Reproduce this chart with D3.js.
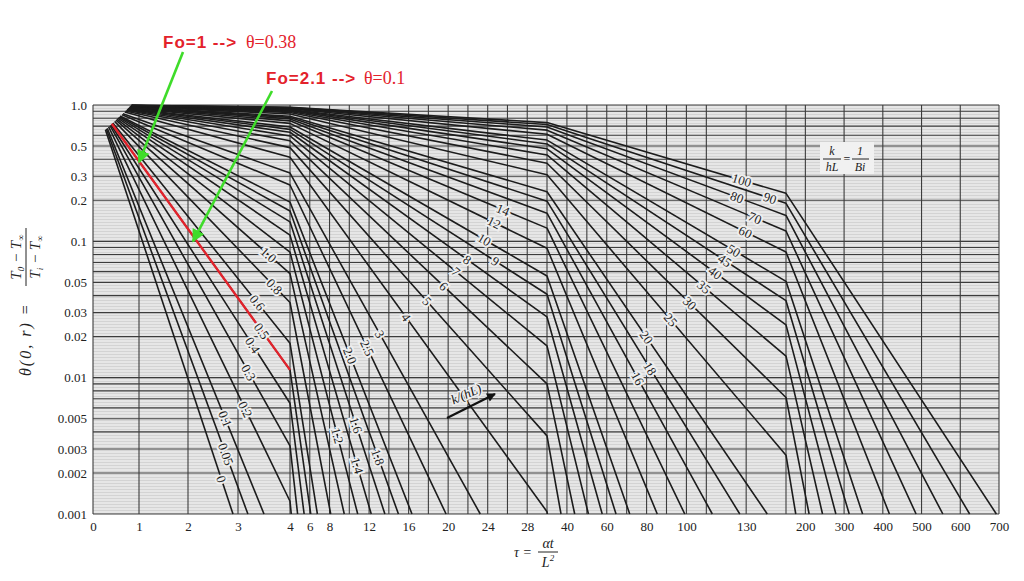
<!DOCTYPE html>
<html>
<head>
<meta charset="utf-8">
<script src="https://cdn.jsdelivr.net/npm/d3@7"></script>
<style>
body { margin: 0; background: #fff; }
svg text { font-family: "Liberation Serif", "DejaVu Serif", serif; }
</style>
</head>
<body>
<div id="chart"></div>
<script>
// k/(hL) value of each curve
const kOverHL = ["0", "0.05", "0.1", "0.2", "0.3", "0.4", "0.5", "0.6", "0.8", "1.0",
    "1.2", "1.4", "1.6", "1.8", "2.0", "2.5", "3", "4", "5", "6", "7", "8", "9", "10",
    "12", "14", "16", "18", "20", "25", "30", "35", "40", "45", "50", "60", "70", "80", "90", "100"];

// where each curve starts (upper left)
const startTau = [0.27, 0.29, 0.31, 0.34, 0.37, 0.39, 0.41, 0.43, 0.47, 0.50,
    0.52, 0.54, 0.56, 0.58, 0.59, 0.63, 0.65, 0.69, 0.71, 0.73, 0.74, 0.75, 0.76, 0.77,
    0.78, 0.79, 0.80, 0.80, 0.81, 0.82, 0.82, 0.83, 0.83, 0.83, 0.83, 0.84, 0.84, 0.84, 0.84, 0.84];
const startTheta = [0.657, 0.666, 0.675, 0.691, 0.705, 0.717, 0.729, 0.739, 0.758, 0.774,
    0.788, 0.801, 0.812, 0.821, 0.830, 0.849, 0.864, 0.887, 0.903, 0.915, 0.924, 0.932, 0.938, 0.943,
    0.951, 0.957, 0.962, 0.966, 0.969, 0.975, 0.979, 0.982, 0.984, 0.985, 0.987, 0.989, 0.991, 0.992, 0.993, 0.993];

// theta where the curve crosses the scale breaks (tau = 4, 30, 150); null = already ended
const thetaAt4 = [null, null, null, 0.00124, 0.00316, 0.00649, 0.0114, 0.0179, 0.0356, 0.0580,
    0.0834, 0.111, 0.139, 0.167, 0.194, 0.259, 0.317, 0.414, 0.487, 0.546, 0.593, 0.631, 0.663, 0.690,
    0.733, 0.765, 0.791, 0.811, 0.828, 0.860, 0.881, 0.897, 0.909, 0.919, 0.927, 0.938, 0.947, 0.953, 0.958, 0.963];
const thetaAt30 = [null, null, null, null, null, null, null, null, null, null,
    null, null, null, null, null, null, null, 0.00104, 0.00374, 0.0090, 0.0171, 0.0279, 0.0409, 0.0557,
    0.0890, 0.125, 0.161, 0.197, 0.231, 0.308, 0.374, 0.430, 0.477, 0.518, 0.553, 0.610, 0.654, 0.690, 0.719, 0.743];
const thetaAt150 = [null, null, null, null, null, null, null, null, null, null,
    null, null, null, null, null, null, null, null, null, null, null, null, null, null,
    null, null, null, null, null, 0.00270, 0.00716, 0.0144, 0.0244, 0.0367, 0.0509, 0.0835, 0.119, 0.155, 0.190, 0.225];

// tau where each curve reaches theta = 0.001
const endTau = [2.90, 3.19, 3.50, 4.13, 4.77, 5.43, 6.10, 6.77, 8.12, 9.49,
    10.85, 12.22, 13.60, 14.97, 16.34, 19.79, 23.25, 30.18, 37.04, 43.91, 50.81, 57.73, 64.66, 71.54,
    85.36, 99.17, 113.0, 126.8, 140.6, 175.2, 209.7, 244.3, 278.8, 313.3, 347.8, 417.1, 485.9, 555.0, 624.2, 693.2];

// approximate spot of each curve label
const labelTau = [2.60, 2.70, 2.68, 3.04, 3.19, 3.23, 3.40, 3.27, 3.67, 3.55,
    8.25, 10.27, 10.07, 12.09, 9.77, 11.39, 12.90, 15.63, 17.66, 19.38, 20.49, 21.70, 24.74, 23.52,
    24.43, 25.45, 74.2, 80.7, 80.2, 90.8, 101.8, 108.3, 114.4, 118.4, 123.4, 129.4, 134.4, 125.4, 142.0, 127.9];
const labelTheta = [0.00177, 0.0027, 0.00489, 0.0056, 0.0108, 0.0168, 0.0212, 0.033, 0.0454, 0.077,
    0.00367, 0.00221, 0.00434, 0.00249, 0.0142, 0.0160, 0.0205, 0.0274, 0.0353, 0.0454, 0.0566, 0.0693, 0.0705, 0.0988,
    0.127, 0.164, 0.0096, 0.0114, 0.0199, 0.0256, 0.0353, 0.0454, 0.0585, 0.0693, 0.0835, 0.115, 0.148, 0.211, 0.208, 0.286];

const xTicks = [0, 1, 2, 3, 4, 6, 8, 12, 16, 20, 24, 28, 40, 60, 80, 100, 130, 200, 300, 400, 500, 600, 700];
const yTicks = [1, 0.5, 0.3, 0.2, 0.1, 0.05, 0.03, 0.02, 0.01, 0.005, 0.003, 0.002, 0.001];
const xGrid = [0, 1, 2, 3, 4, 6, 8, 10, 12, 14, 16, 18, 20, 22, 24, 26, 28, 30,
    40, 50, 60, 70, 80, 90, 100, 110, 130, 150, 200, 300, 400, 500, 600, 700];

const w = 1024;
const h = 581;

// the tau axis changes pace at 4, 30 and 150
const x = d3.scaleLinear()
    .domain([0, 1, 2, 3, 4, 30, 150, 700])
    .range([93, 139, 188, 238, 290, 547, 786, 999]);
const y = d3.scaleLog().domain([0.001, 1]).range([514, 105]);

const svg = d3.select("#chart")
    .append("svg")
    .attr("width", w)
    .attr("height", h)
    .style("display", "block");

const defs = svg.append("defs");
const paper = defs.append("pattern")
    .attr("id", "paper")
    .attr("patternUnits", "userSpaceOnUse")
    .attr("width", 6)
    .attr("height", 3);
paper.append("rect").attr("width", 6).attr("height", 3).attr("fill", "#e6e6e6");
paper.append("rect").attr("width", 6).attr("height", 1).attr("fill", "#d3d3d3");

defs.append("marker")
    .attr("id", "greenHead")
    .attr("viewBox", "0 0 10 10")
    .attr("refX", 9).attr("refY", 5)
    .attr("markerWidth", 5).attr("markerHeight", 5)
    .attr("orient", "auto")
    .append("path").attr("d", "M0,0 L10,5 L0,10 Z").attr("fill", "#3fdc2a");

defs.append("marker")
    .attr("id", "blackHead")
    .attr("viewBox", "0 0 10 10")
    .attr("refX", 9).attr("refY", 5)
    .attr("markerWidth", 5).attr("markerHeight", 4)
    .attr("orient", "auto")
    .append("path").attr("d", "M0,0 L10,5 L0,10 Z").attr("fill", "#111");

svg.append("rect")
    .attr("x", x(0))
    .attr("y", y(1))
    .attr("width", x(700) - x(0))
    .attr("height", y(0.001) - y(1))
    .attr("fill", "url(#paper)");

// log grid: every 1..9 in each decade
let yGrid = [];
[0.001, 0.01, 0.1].forEach((dec) => {
    for (let k = 1; k < 10; k++) yGrid.push(dec * k);
});
yGrid.push(1);

svg.append("g")
    .selectAll("line")
    .data(yGrid)
    .join("line")
    .attr("x1", x(0))
    .attr("x2", x(700))
    .attr("y1", (d) => y(d))
    .attr("y2", (d) => y(d))
    .attr("stroke", "#3c3c3c")
    .attr("stroke-width", 1.1);

svg.append("g")
    .selectAll("line")
    .data(xGrid)
    .join("line")
    .attr("x1", (d) => x(d))
    .attr("x2", (d) => x(d))
    .attr("y1", y(1))
    .attr("y2", y(0.001))
    .attr("stroke", "#3c3c3c")
    .attr("stroke-width", 1.1);

// build each curve's points from the arrays
const curves = kOverHL.map((k, i) => {
    const pts = [[startTau[i], startTheta[i]]];
    [[4, thetaAt4[i]], [30, thetaAt30[i]], [150, thetaAt150[i]]].forEach((p) => {
        if (p[1] != null) pts.push(p);
    });
    pts.push([endTau[i], y.domain()[0]]);
    return { k, pts };
});

const line = d3.line().x((d) => x(d[0])).y((d) => y(d[1]));

svg.append("g")
    .selectAll("path")
    .data(curves)
    .join("path")
    .attr("d", (d) => line(d.pts))
    .attr("fill", "none")
    .attr("stroke", "#1c1c1c")
    .attr("stroke-width", 1.6)
    .attr("stroke-linejoin", "round");

// red highlight on k/(hL) = 0.5 up to tau = 4
const red = curves[6];
svg.append("path")
    .attr("d", line(red.pts.filter((p) => p[0] <= 4)))
    .attr("fill", "none")
    .attr("stroke", "#e3222b")
    .attr("stroke-width", 2.3);

// put a label on its curve, nearest to the picked spot
function snap(c, tau, theta) {
    const px = x(tau), py = y(theta);
    let best = null;
    for (let j = 0; j < c.pts.length - 1; j++) {
        const ax = x(c.pts[j][0]), ay = y(c.pts[j][1]);
        const bx = x(c.pts[j + 1][0]), by = y(c.pts[j + 1][1]);
        const dx = bx - ax, dy = by - ay;
        let t = ((px - ax) * dx + (py - ay) * dy) / (dx * dx + dy * dy);
        t = Math.max(0, Math.min(1, t));
        const qx = ax + t * dx, qy = ay + t * dy;
        const dist = (qx - px) ** 2 + (qy - py) ** 2;
        if (!best || dist < best.dist) {
            best = { x: qx, y: qy, dist, angle: Math.atan2(dy, dx) * 180 / Math.PI };
        }
    }
    return best;
}

svg.append("g")
    .selectAll("text")
    .data(curves)
    .join("text")
    .attr("transform", (d, i) => {
        const s = snap(d, labelTau[i], labelTheta[i]);
        return `translate(${s.x},${s.y}) rotate(${s.angle})`;
    })
    .attr("text-anchor", "middle")
    .attr("dy", "0.35em")
    .attr("font-size", 13)
    .attr("fill", "#1e1e1e")
    .attr("stroke", "#eeeeee")
    .attr("stroke-width", 4)
    .attr("paint-order", "stroke")
    .text((d) => d.k);

// axes
const xAxis = d3.axisBottom(x).tickValues(xTicks).tickSize(0).tickPadding(8).tickFormat(d3.format("d"));
const gx = svg.append("g").attr("transform", `translate(0,${y(0.001)})`).call(xAxis);
gx.select(".domain").remove();
gx.selectAll("text").attr("font-family", "Liberation Serif").attr("font-size", 13).attr("fill", "#222");

const yAxis = d3.axisLeft(y).tickValues(yTicks).tickSize(0).tickPadding(6)
    .tickFormat((d) => (d === 1 ? "1.0" : String(d)));
const gy = svg.append("g").attr("transform", `translate(${x(0)},0)`).call(yAxis);
gy.select(".domain").remove();
gy.selectAll("text").attr("font-family", "Liberation Serif").attr("font-size", 13).attr("fill", "#222");

// axis titles
const xt = svg.append("g").attr("font-style", "italic").attr("font-size", 14).attr("fill", "#222");
xt.append("text").attr("x", 523).attr("y", 557).attr("text-anchor", "middle").text("τ =");
xt.append("text").attr("x", 548).attr("y", 548).attr("text-anchor", "middle").text("αt");
xt.append("line").attr("x1", 538).attr("x2", 558).attr("y1", 552).attr("y2", 552).attr("stroke", "#222");
xt.append("text").attr("x", 548).attr("y", 567).attr("text-anchor", "middle")
    .text("L").append("tspan").attr("font-size", 9).attr("dy", -6).text("2");

const yt = svg.append("g")
    .attr("transform", "translate(26,302) rotate(-90)")
    .attr("font-style", "italic")
    .attr("font-size", 16)
    .attr("fill", "#222");
yt.append("text")
    .attr("x", -74).attr("y", 5)
    .attr("letter-spacing", 2)
    .text("θ(0, r) =");
const num = yt.append("text").attr("x", 45).attr("y", -5).attr("font-size", 15).attr("text-anchor", "middle");
num.append("tspan").text("T");
num.append("tspan").attr("font-size", 9).attr("dy", 3).text("0");
num.append("tspan").attr("dy", -3).text(" − T");
num.append("tspan").attr("font-size", 9).attr("dy", 3).text("∞");
yt.append("line").attr("x1", 16).attr("x2", 74).attr("y1", 0).attr("y2", 0).attr("stroke", "#222");
const den = yt.append("text").attr("x", 45).attr("y", 14).attr("font-size", 15).attr("text-anchor", "middle");
den.append("tspan").text("T");
den.append("tspan").attr("font-size", 9).attr("dy", 3).text("i");
den.append("tspan").attr("dy", -3).text(" − T");
den.append("tspan").attr("font-size", 9).attr("dy", 3).text("∞");

// k/hL = 1/Bi box
const kb = svg.append("g").attr("font-style", "italic").attr("font-size", 12).attr("fill", "#222");
kb.append("rect").attr("x", 820).attr("y", 142).attr("width", 54).attr("height", 32).attr("fill", "#f1f1f1");
kb.append("text").attr("x", 832).attr("y", 155).attr("text-anchor", "middle").text("k");
kb.append("line").attr("x1", 823).attr("x2", 841).attr("y1", 159).attr("y2", 159).attr("stroke", "#222");
kb.append("text").attr("x", 832).attr("y", 171).attr("text-anchor", "middle").text("hL");
kb.append("text").attr("x", 847).attr("y", 163).attr("text-anchor", "middle").attr("font-style", "normal").text("=");
kb.append("text").attr("x", 860).attr("y", 155).attr("text-anchor", "middle").text("1");
kb.append("line").attr("x1", 852).attr("x2", 869).attr("y1", 159).attr("y2", 159).attr("stroke", "#222");
kb.append("text").attr("x", 860).attr("y", 171).attr("text-anchor", "middle").text("Bi");

// k/(hL) direction arrow
svg.append("line")
    .attr("x1", 447).attr("y1", 418).attr("x2", 495).attr("y2", 394)
    .attr("stroke", "#111").attr("stroke-width", 2.2)
    .attr("marker-end", "url(#blackHead)");
svg.append("text")
    .attr("transform", "translate(468,398) rotate(-24)")
    .attr("text-anchor", "middle")
    .attr("font-style", "italic")
    .attr("font-size", 13)
    .attr("fill", "#111")
    .attr("stroke", "#eeeeee").attr("stroke-width", 3).attr("paint-order", "stroke")
    .text("k/(hL)");

// Fourier number read-offs
const notes = [
    { fo: "Fo=1 -->", th: "θ=0.38", tx: 163, thx: 246, ty: 48, sx: 183, sy: 52, tau: 1, theta: 0.38 },
    { fo: "Fo=2.1 -->", th: "θ=0.1", tx: 266, thx: 364, ty: 84, sx: 272, sy: 91, tau: 2.1, theta: 0.1 }
];
notes.forEach((n) => {
    const t = svg.append("text").attr("y", n.ty).attr("fill", "#e3222b");
    t.append("tspan")
        .attr("x", n.tx)
        .attr("font-family", "Liberation Sans, Arial, sans-serif")
        .attr("font-weight", "bold")
        .attr("font-size", 17)
        .attr("letter-spacing", 1)
        .text(n.fo);
    t.append("tspan")
        .attr("x", n.thx)
        .attr("font-family", "Liberation Serif")
        .attr("font-size", 18)
        .text(n.th);
    svg.append("line")
        .attr("x1", n.sx).attr("y1", n.sy)
        .attr("x2", x(n.tau)).attr("y2", y(n.theta))
        .attr("stroke", "#3fdc2a").attr("stroke-width", 2.6)
        .attr("marker-end", "url(#greenHead)");
});
</script>
</body>
</html>
